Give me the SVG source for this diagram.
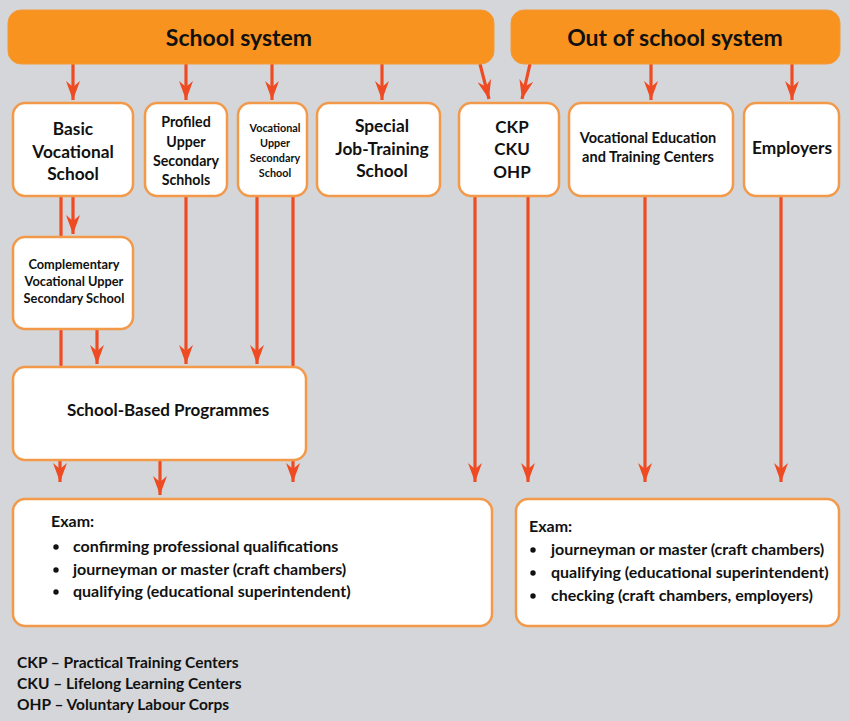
<svg xmlns="http://www.w3.org/2000/svg" width="850" height="721" viewBox="0 0 850 721">
<style>
.bar{fill:#f7931e;stroke:#f39a3a;stroke-width:1}
.box{fill:#fff;stroke:#f29a4a;stroke-width:2.5}
.t{font-family:Lato,"Open Sans","Liberation Sans",sans-serif;font-weight:bold;fill:#111}
.c{text-anchor:middle}
.ln{stroke:#ef4b23;stroke-width:3.2;fill:none}
.ar{stroke:#ef4b23;stroke-width:3.2;fill:none;marker-end:url(#ah)}
</style>
<defs>
<marker id="ah" markerUnits="userSpaceOnUse" markerWidth="20" markerHeight="14" viewBox="0 0 20 14" refX="19" refY="7" orient="auto">
<path d="M0,0 L6,7 L0,14 L19,7 Z" fill="#ef4b23"/>
</marker>
</defs>
<rect width="850" height="721" fill="#d4d6d9"/>
<g id="connectors">
<line class="ar" x1="73" y1="64" x2="73" y2="100"/>
<line class="ar" x1="186" y1="64" x2="186" y2="100"/>
<line class="ar" x1="272" y1="64" x2="272" y2="100"/>
<line class="ar" x1="382" y1="64" x2="382" y2="100"/>
<line class="ar" x1="480" y1="64" x2="489" y2="99"/>
<line class="ar" x1="530" y1="64" x2="522" y2="99"/>
<line class="ar" x1="651" y1="64" x2="651" y2="100"/>
<line class="ar" x1="792" y1="64" x2="792" y2="100"/>
<line class="ln" x1="61" y1="196" x2="61" y2="237"/>
<line class="ar" x1="73" y1="196" x2="73" y2="234"/>
<line class="ln" x1="61" y1="329" x2="61" y2="367"/>
<line class="ar" x1="97" y1="329" x2="97" y2="364"/>
<line class="ar" x1="186" y1="196" x2="186" y2="364"/>
<line class="ar" x1="257" y1="196" x2="257" y2="364"/>
<line class="ln" x1="293" y1="196" x2="293" y2="367"/>
<line class="ar" x1="60" y1="460" x2="60" y2="482"/>
<line class="ar" x1="160" y1="460" x2="160" y2="495"/>
<line class="ar" x1="293" y1="460" x2="293" y2="482"/>
<line class="ar" x1="475" y1="196" x2="475" y2="482"/>
<line class="ar" x1="528" y1="196" x2="528" y2="482"/>
<line class="ar" x1="645" y1="196" x2="645" y2="482"/>
<line class="ar" x1="781" y1="196" x2="781" y2="482"/>
</g>
<g id="school-system">
<rect class="bar" x="8" y="10" width="486" height="54" rx="13"/>
<text class="t c" x="239" y="46" font-size="23">School system</text>
</g>
<g id="out-of-school-system">
<rect class="bar" x="511" y="10" width="329" height="54" rx="13"/>
<text class="t c" x="675" y="46" font-size="23">Out of school system</text>
</g>
<g id="basic-vocational">
<rect class="box" x="13" y="103" width="120" height="93" rx="12"/>
<text class="t c" x="73" y="135" font-size="17.3">Basic</text>
<text class="t c" x="73" y="158" font-size="17.3">Vocational</text>
<text class="t c" x="73" y="180" font-size="17.3">School</text>
</g>
<g id="profiled">
<rect class="box" x="145" y="103" width="82" height="93" rx="12"/>
<text class="t c" x="186" y="127" font-size="14.2">Profiled</text>
<text class="t c" x="186" y="147" font-size="14.2">Upper</text>
<text class="t c" x="186" y="166" font-size="14.2">Secondary</text>
<text class="t c" x="186" y="185" font-size="14.2">Schhols</text>
</g>
<g id="vocational-upper">
<rect class="box" x="238" y="103" width="69" height="93" rx="12"/>
<text class="t c" x="275" y="132" font-size="10.8">Vocational</text>
<text class="t c" x="275" y="147" font-size="10.8">Upper</text>
<text class="t c" x="275" y="162" font-size="10.8">Secondary</text>
<text class="t c" x="275" y="177" font-size="10.8">School</text>
</g>
<g id="special">
<rect class="box" x="317" y="103" width="123" height="93" rx="12"/>
<text class="t c" x="382" y="132" font-size="17.3">Special</text>
<text class="t c" x="382" y="155" font-size="17.3">Job-Training</text>
<text class="t c" x="382" y="177" font-size="17.3">School</text>
</g>
<g id="ckp">
<rect class="box" x="459" y="103" width="100" height="93" rx="12"/>
<text class="t c" x="512" y="133" font-size="17">CKP</text>
<text class="t c" x="512" y="155" font-size="17">CKU</text>
<text class="t c" x="512" y="178" font-size="17">OHP</text>
</g>
<g id="vet-centers">
<rect class="box" x="569" y="103" width="164" height="93" rx="12"/>
<text class="t c" x="648" y="143" font-size="14.5">Vocational Education</text>
<text class="t c" x="648" y="162" font-size="14.5">and Training Centers</text>
</g>
<g id="employers">
<rect class="box" x="744" y="103" width="95" height="93" rx="12"/>
<text class="t c" x="792" y="154" font-size="17.3">Employers</text>
</g>
<g id="complementary">
<rect class="box" x="13" y="237" width="120" height="92" rx="12"/>
<text class="t c" x="74" y="269" font-size="12.8">Complementary</text>
<text class="t c" x="74" y="286" font-size="12.8">Vocational Upper</text>
<text class="t c" x="74" y="303" font-size="12.8">Secondary School</text>
</g>
<g id="school-based">
<rect class="box" x="13" y="367" width="293" height="93" rx="12"/>
<text class="t c" x="168" y="416" font-size="17">School-Based Programmes</text>
</g>
<g id="exam-school">
<rect class="box" x="13" y="499" width="479" height="127" rx="12"/>
<text class="t" x="51" y="527" font-size="16">Exam:</text>
<circle cx="56" cy="547" r="2.7" fill="#111"/>
<circle cx="56" cy="570" r="2.7" fill="#111"/>
<circle cx="56" cy="592" r="2.7" fill="#111"/>
<text class="t" x="73" y="552" font-size="16">confirming professional qualifications</text>
<text class="t" x="73" y="575" font-size="16">journeyman or master (craft chambers)</text>
<text class="t" x="73" y="597" font-size="16">qualifying (educational superintendent)</text>
</g>
<g id="exam-out">
<rect class="box" x="516" y="499" width="323" height="127" rx="12"/>
<text class="t" x="529" y="532" font-size="16">Exam:</text>
<circle cx="533" cy="550" r="2.7" fill="#111"/>
<circle cx="533" cy="573" r="2.7" fill="#111"/>
<circle cx="533" cy="596" r="2.7" fill="#111"/>
<text class="t" x="551" y="555" font-size="16">journeyman or master (craft chambers)</text>
<text class="t" x="551" y="578" font-size="16">qualifying (educational superintendent)</text>
<text class="t" x="551" y="601" font-size="16">checking (craft chambers, employers)</text>
</g>
<g id="legend">
<text class="t" x="17" y="668" font-size="15.5">CKP – Practical Training Centers</text>
<text class="t" x="17" y="689" font-size="15.5">CKU – Lifelong Learning Centers</text>
<text class="t" x="17" y="710" font-size="15.5">OHP – Voluntary Labour Corps</text>
</g>
</svg>
